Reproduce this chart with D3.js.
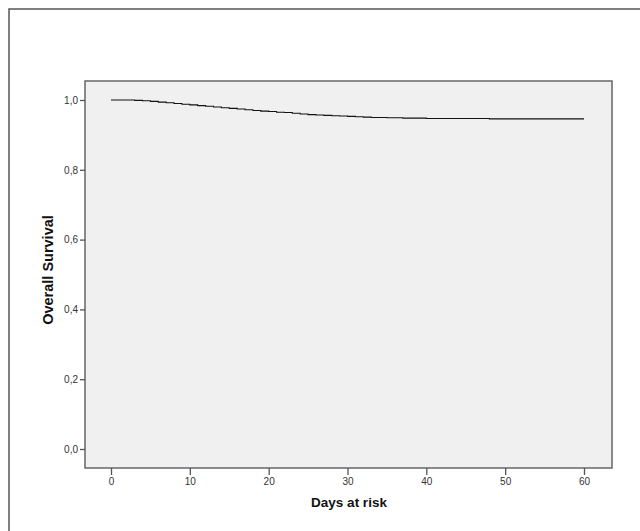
<!DOCTYPE html>
<html>
<head>
<meta charset="utf-8">
<script src="https://cdn.jsdelivr.net/npm/d3@7"></script>
<style>
  body { margin: 0; background: #fff; }
  text { font-family: "Liberation Sans", Arial, sans-serif; }
</style>
</head>
<body>
<div id="chart"></div>
<script>
// Dias y supervivencia (Kaplan-Meier)
const days = [0, 1, 2, 3, 4, 5, 6, 7, 8, 9, 10, 11, 12, 13, 14, 15, 16, 17, 18, 19, 20,
  21, 22, 23, 24, 25, 26, 27, 28, 29, 30, 31, 32, 33, 34, 35, 36, 37, 38, 39, 40,
  42, 44, 46, 48, 50, 52, 54, 56, 58, 60];
const survival = [1.000, 1.000, 1.000, 0.999, 0.998, 0.996, 0.994, 0.992, 0.990, 0.988, 0.986,
  0.984, 0.982, 0.980, 0.978, 0.976, 0.974, 0.972, 0.970, 0.968, 0.967,
  0.965, 0.964, 0.962, 0.960, 0.958, 0.957, 0.956, 0.955, 0.954, 0.953,
  0.952, 0.951, 0.950, 0.950, 0.949, 0.949, 0.948, 0.948, 0.948, 0.947,
  0.947, 0.947, 0.947, 0.946, 0.946, 0.946, 0.946, 0.946, 0.946, 0.946];
const xTicks = [0, 10, 20, 30, 40, 50, 60];
const yTicks = [0, 0.2, 0.4, 0.6, 0.8, 1.0];

const W = 640, H = 531;
const plot = { left: 85, top: 81, right: 612, bottom: 468 };

const svg = d3.select('#chart').append('svg')
  .attr('width', W)
  .attr('height', H);

// marco exterior
svg.append('rect')
  .attr('x', 9).attr('y', 9)
  .attr('width', 700).attr('height', 600)
  .attr('fill', '#fff')
  .attr('stroke', '#555')
  .attr('stroke-width', 1.5);

const xScale = d3.scaleLinear().domain([0, 60]).range([111, 584]);
const yScale = d3.scaleLinear().domain([0, 1]).range([449, 100]);

// area del grafico
svg.append('rect')
  .attr('x', plot.left).attr('y', plot.top)
  .attr('width', plot.right - plot.left)
  .attr('height', plot.bottom - plot.top)
  .attr('fill', '#f0f0f0')
  .attr('stroke', '#666')
  .attr('stroke-width', 1.5);

const fmt = d => d3.format('.1f')(d).replace('.', ',');

// eje y
const yAxis = svg.append('g')
  .attr('transform', 'translate(' + plot.left + ',0)')
  .call(d3.axisLeft(yScale).tickValues(yTicks).tickSize(5).tickPadding(2).tickFormat(fmt));

// eje x
const xAxis = svg.append('g')
  .attr('transform', 'translate(0,' + plot.bottom + ')')
  .call(d3.axisBottom(xScale).tickValues(xTicks).tickSize(7).tickPadding(3).tickFormat(d3.format('d')));

[yAxis, xAxis].forEach(ax => {
  ax.select('.domain').remove();
  ax.selectAll('.tick line').attr('stroke', '#555').attr('stroke-width', 1.3);
  ax.selectAll('.tick text')
    .attr('fill', '#333')
    .style('font-size', '10px')
    .style('font-family', '"Liberation Sans", Arial, sans-serif');
});

// curva de supervivencia
const points = days.map((d, i) => ({ day: d, value: survival[i] }));
const line = d3.line()
  .x(d => xScale(d.day))
  .y(d => yScale(d.value))
  .curve(d3.curveStepAfter);

svg.append('path')
  .datum(points)
  .attr('d', line)
  .attr('fill', 'none')
  .attr('stroke', '#111')
  .attr('stroke-width', 1.1);

// titulos de ejes
svg.append('text')
  .attr('x', 349)
  .attr('y', 507)
  .attr('text-anchor', 'middle')
  .style('font-size', '13.5px')
  .style('font-weight', 'bold')
  .attr('fill', '#111')
  .text('Days at risk');

svg.append('text')
  .attr('transform', 'translate(53,270) rotate(-90)')
  .attr('text-anchor', 'middle')
  .style('font-size', '14.5px')
  .style('font-weight', 'bold')
  .attr('fill', '#111')
  .text('Overall Survival');
</script>
</body>
</html>
